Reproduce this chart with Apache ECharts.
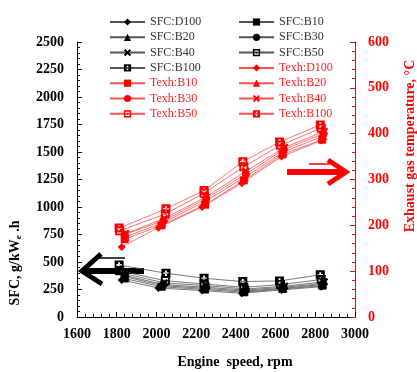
<!DOCTYPE html>
<html>
<head>
<meta charset="utf-8">
<script src="https://cdn.jsdelivr.net/npm/echarts@6/dist/echarts.min.js"></script>
<style>html,body{margin:0;padding:0;background:#fff}#c{width:417px;height:372px}</style>
</head>
<body>
<div id="c"></div>
<script>
// Fuels / series names
var fuels = ['D100', 'B10', 'B20', 'B30', 'B40', 'B50', 'B100'];

// Engine speed (rpm) per fuel
var rpmD100 = [1825, 2010, 2230, 2430, 2630, 2830];
var rpmB10  = [1840, 2025, 2245, 2440, 2635, 2835];
var rpmB20  = [1845, 2030, 2245, 2445, 2640, 2840];
var rpmB30  = [1840, 2035, 2250, 2450, 2640, 2840];
var rpmB40  = [1845, 2040, 2250, 2450, 2645, 2845];
var rpmB50  = [1815, 2045, 2240, 2440, 2625, 2830];
var rpmB100 = [1812, 2048, 2240, 2435, 2620, 2825];

// SFC, g/kWe.h
var sfcD100 = [337, 264, 240, 216, 246, 276];
var sfcB10  = [350, 275, 250, 225, 255, 285];
var sfcB20  = [365, 285, 260, 235, 262, 295];
var sfcB30  = [378, 295, 270, 245, 270, 305];
var sfcB40  = [392, 310, 285, 255, 280, 320];
var sfcB50  = [420, 330, 300, 270, 295, 340];
var sfcB100 = [473, 398, 352, 322, 328, 383];

// Exhaust gas temperature, °C
var texD100 = [153, 195, 240, 292, 350, 385];
var texB10  = [170, 200, 245, 298, 355, 387];
var texB20  = [175, 205, 252, 305, 360, 395];
var texB30  = [180, 210, 258, 312, 365, 400];
var texB40  = [182, 215, 262, 318, 370, 405];
var texB50  = [188, 225, 270, 328, 375, 412];
var texB100 = [194, 236, 276, 339, 382, 419];

// Axis ticks
var xTicks = [1600, 1800, 2000, 2200, 2400, 2600, 2800, 3000];
var yLeftTicks = [0, 250, 500, 750, 1000, 1250, 1500, 1750, 2000, 2250, 2500];
var yRightTicks = [0, 100, 200, 300, 400, 500, 600];

var rpms = [rpmD100, rpmB10, rpmB20, rpmB30, rpmB40, rpmB50, rpmB100];
var sfcs = [sfcD100, sfcB10, sfcB20, sfcB30, sfcB40, sfcB50, sfcB100];
var texs = [texD100, texB10, texB20, texB30, texB40, texB50, texB100];

var symbols = [
  'diamond',
  'rect',
  'triangle',
  'circle',
  'path://M0,2 L2,0 L5,3 L8,0 L10,2 L7,5 L10,8 L8,10 L5,7 L2,10 L0,8 L3,5 Z',
  'path://M0,0 L10,0 L10,10 L0,10 Z M2,2 L2,8 L8,8 L8,2 Z M4,4 L6,4 L6,6 L4,6 Z',
  'path://M0,0 L10,0 L10,10 L0,10 Z M4,2 L4,4 L2,4 L2,6 L4,6 L4,8 L6,8 L6,6 L8,6 L8,4 L6,4 L6,2 Z'
];
var symSizes = [8, 8, 8, 8, 8, 9, 9];

function zip(a, b) { return a.map(function (v, i) { return [v, b[i]]; }); }

var series = [];
fuels.forEach(function (f, i) {
  series.push({
    name: 'SFC:' + f, type: 'line', xAxisIndex: 0, yAxisIndex: 0,
    data: zip(rpms[i], sfcs[i]),
    symbol: symbols[i], symbolSize: symSizes[i], showAllSymbol: true,
    lineStyle: { color: '#555', width: 0.8 },
    itemStyle: { color: '#000', opacity: 1 },
    z: 3
  });
});
fuels.forEach(function (f, i) {
  series.push({
    name: 'Texh:' + f, type: 'line', xAxisIndex: 0, yAxisIndex: 1,
    data: zip(rpms[i], texs[i]),
    symbol: symbols[i], symbolSize: symSizes[i], showAllSymbol: true,
    lineStyle: { color: '#ff5050', width: 0.8 },
    itemStyle: { color: '#ff0000', opacity: 1 },
    z: 3
  });
});

var names = [];
fuels.forEach(function (f) { names.push('SFC:' + f); });
fuels.forEach(function (f) { names.push('Texh:' + f); });
var leftNames = [], rightNames = [];
names.forEach(function (n, i) {
  var item = { name: n, textStyle: { color: n.indexOf('SFC') === 0 ? '#333' : '#ff2020' } };
  if (i % 2 === 0) leftNames.push(item); else rightNames.push(item);
});

var serif = 'Liberation Serif';
var legendBase = {
  orient: 'vertical', top: 11, itemWidth: 35, itemHeight: 9, itemGap: 3.3,
  textStyle: { fontFamily: serif, fontSize: 12, lineHeight: 12 },
  selectedMode: false
};
function plain(v) { return String(v); }

var chart = echarts.init(document.getElementById('c'), null, { renderer: 'canvas' });
chart.setOption({
  animation: false,
  backgroundColor: '#fff',
  grid: { left: 77, right: 62, top: 42, bottom: 55, containLabel: false },
  legend: [
    Object.assign({}, legendBase, { left: 104, data: leftNames }),
    Object.assign({}, legendBase, { left: 233, data: rightNames })
  ],
  xAxis: {
    type: 'value', min: xTicks[0], max: xTicks[xTicks.length - 1], interval: 200,
    axisLine: { lineStyle: { color: '#000', width: 1 } },
    axisTick: { inside: true, length: 5, lineStyle: { color: '#000' } },
    minorTick: { show: true, splitNumber: 5, length: 3, lineStyle: { color: '#000' } },
    splitLine: { show: false },
    axisLabel: { fontFamily: serif, fontWeight: 'bold', fontSize: 14, color: '#000', margin: 10, formatter: plain }
  },
  yAxis: [
    {
      type: 'value', min: yLeftTicks[0], max: yLeftTicks[yLeftTicks.length - 1], interval: 250,
      position: 'left',
      axisLine: { show: true, lineStyle: { color: '#000' } },
      axisTick: { show: true, inside: true, length: 5, lineStyle: { color: '#000' } },
      minorTick: { show: true, splitNumber: 5, length: 3, lineStyle: { color: '#000' } },
      splitLine: { show: false },
      axisLabel: { fontFamily: serif, fontWeight: 'bold', fontSize: 14, color: '#000', margin: 13, formatter: plain }
    },
    {
      type: 'value', min: yRightTicks[0], max: yRightTicks[yRightTicks.length - 1], interval: 100,
      position: 'right',
      axisLine: { show: true, lineStyle: { color: '#ff0000' } },
      axisTick: { show: true, inside: true, length: 5, lineStyle: { color: '#ff0000' } },
      minorTick: { show: true, splitNumber: 5, length: 3, lineStyle: { color: '#ff0000' } },
      splitLine: { show: false },
      axisLabel: { fontFamily: serif, fontWeight: 'bold', fontSize: 14, color: '#ff0000', margin: 13, formatter: plain }
    }
  ],
  graphic: [
    {
      type: 'text', x: 15, y: 263, rotation: Math.PI / 2,
      style: {
        text: '{a|SFC, g/kW}{s|e}{a| .h}', x: 0, y: 0, align: 'center', verticalAlign: 'middle',
        rich: {
          a: { fontFamily: serif, fontWeight: 'bold', fontSize: 14, fill: '#000' },
          s: { fontFamily: serif, fontWeight: 'bold', fontSize: 9, fill: '#000', padding: [8, 0, 0, 0] }
        }
      }
    },
    {
      type: 'text', x: 410, y: 146, rotation: Math.PI / 2,
      style: {
        text: 'Exhaust gas temperature, °C', x: 0, y: 0, align: 'center', verticalAlign: 'middle',
        font: 'bold 14px "Liberation Serif"', fill: '#ff0000'
      }
    },
    {
      type: 'text', x: 235, y: 362,
      style: {
        text: 'Engine  speed, rpm', x: 0, y: 0, align: 'center', verticalAlign: 'middle',
        font: 'bold 14px "Liberation Serif"', fill: '#000'
      }
    },
    // black arrow pointing left
    { type: 'line', shape: { x1: 84, y1: 271, x2: 144, y2: 271 }, style: { stroke: '#000', lineWidth: 6 } },
    { type: 'polyline', shape: { points: [[101, 254], [82, 271], [102, 284]] }, style: { stroke: '#000', lineWidth: 5, fill: null } },
    { type: 'line', shape: { x1: 97, y1: 258, x2: 125, y2: 258 }, style: { stroke: '#000', lineWidth: 1.5 } },
    // red arrow pointing right
    { type: 'line', shape: { x1: 287, y1: 172, x2: 343, y2: 172 }, style: { stroke: '#ff0000', lineWidth: 6 } },
    { type: 'polyline', shape: { points: [[328, 160], [346, 172], [328, 184]] }, style: { stroke: '#ff0000', lineWidth: 5, fill: null } },
    { type: 'line', shape: { x1: 309, y1: 164, x2: 330, y2: 164 }, style: { stroke: '#ff0000', lineWidth: 1.5 } }
  ],
  series: series
});
</script>
</body>
</html>
